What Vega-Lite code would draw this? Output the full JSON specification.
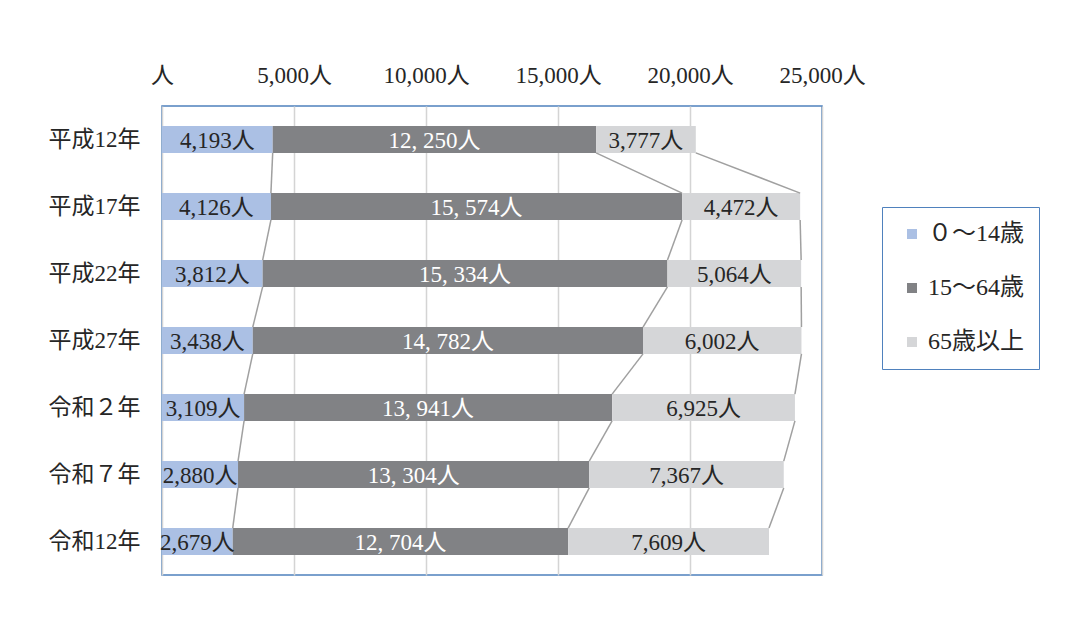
{
  "$schema": "https://vega.github.io/schema/vega-lite/v6.json",
  "width": 660,
  "height": 469,
  "autosize": {"type": "none"},
  "padding": {"left": 162, "top": 106, "right": 243, "bottom": 47},
  "background": "white",
  "config": {
    "font": "Liberation Serif, Noto Sans CJK JP",
    "view": {"stroke": "#4f81bd", "strokeWidth": 1.5}
  },
  "data": {
    "values": [
      {"year": "平成12年", "group": "０～14歳", "value": 4193},
      {"year": "平成12年", "group": "15～64歳", "value": 12250},
      {"year": "平成12年", "group": "65歳以上", "value": 3777},
      {"year": "平成17年", "group": "０～14歳", "value": 4126},
      {"year": "平成17年", "group": "15～64歳", "value": 15574},
      {"year": "平成17年", "group": "65歳以上", "value": 4472},
      {"year": "平成22年", "group": "０～14歳", "value": 3812},
      {"year": "平成22年", "group": "15～64歳", "value": 15334},
      {"year": "平成22年", "group": "65歳以上", "value": 5064},
      {"year": "平成27年", "group": "０～14歳", "value": 3438},
      {"year": "平成27年", "group": "15～64歳", "value": 14782},
      {"year": "平成27年", "group": "65歳以上", "value": 6002},
      {"year": "令和２年", "group": "０～14歳", "value": 3109},
      {"year": "令和２年", "group": "15～64歳", "value": 13941},
      {"year": "令和２年", "group": "65歳以上", "value": 6925},
      {"year": "令和７年", "group": "０～14歳", "value": 2880},
      {"year": "令和７年", "group": "15～64歳", "value": 13304},
      {"year": "令和７年", "group": "65歳以上", "value": 7367},
      {"year": "令和12年", "group": "０～14歳", "value": 2679},
      {"year": "令和12年", "group": "15～64歳", "value": 12704},
      {"year": "令和12年", "group": "65歳以上", "value": 7609}
    ]
  },
  "transform": [
    {"calculate": "indexof(['０～14歳', '15～64歳', '65歳以上'], datum.group)", "as": "go"},
    {"calculate": "indexof(['平成12年', '平成17年', '平成22年', '平成27年', '令和２年', '令和７年', '令和12年'], datum.year)", "as": "yo"},
    {"window": [{"op": "sum", "field": "value", "as": "cum"}], "groupby": ["year"], "sort": [{"field": "go"}], "frame": [null, 0]},
    {"calculate": "datum.cum - datum.value", "as": "start"},
    {"calculate": "datum.cum - datum.value / 2", "as": "mid"}
  ],
  "encoding": {
    "y": {
      "field": "year",
      "type": "nominal",
      "sort": ["平成12年", "平成17年", "平成22年", "平成27年", "令和２年", "令和７年", "令和12年"],
      "scale": {"paddingInner": 0.6, "paddingOuter": 0.3},
      "axis": {
        "title": null,
        "domain": false,
        "ticks": false,
        "labelFontSize": 23,
        "labelColor": "#262626",
        "labelPadding": 22
      }
    }
  },
  "layer": [
    {
      "mark": {"type": "bar"},
      "encoding": {
        "x": {
          "field": "start",
          "type": "quantitative",
          "scale": {"domain": [0, 25000], "nice": false},
          "axis": {
            "orient": "top",
            "title": null,
            "values": [0, 5000, 10000, 15000, 20000, 25000],
            "labelExpr": "datum.value == 0 ? '人' : format(datum.value, ',') + '人'",
            "labelFontSize": 23,
            "labelColor": "#262626",
            "labelPadding": 19,
            "labelFlush": false,
            "labelOverlap": false,
            "labelBound": false,
            "domain": false,
            "ticks": false,
            "grid": true,
            "gridColor": "#d4d4d4",
            "gridWidth": 1.5
          }
        },
        "x2": {"field": "cum"},
        "color": {
          "field": "group",
          "type": "nominal",
          "scale": {
            "domain": ["０～14歳", "15～64歳", "65歳以上"],
            "range": ["#abc0e4", "#818285", "#d5d6d8"]
          },
          "legend": {
            "title": null,
            "orient": "none",
            "legendX": 720,
            "legendY": 101,
            "symbolType": "square",
            "symbolSize": 100,
            "symbolStrokeWidth": 0,
            "symbolOffset": 3,
            "labelFontSize": 24,
            "labelColor": "#262626",
            "labelOffset": 4,
            "rowPadding": 30,
            "padding": 15,
            "strokeColor": "#4f81bd"
          }
        }
      }
    },
    {
      "transform": [
        {"window": [{"op": "lead", "field": "cum", "as": "nextCum"}, {"op": "lead", "field": "year", "as": "nextYear"}], "groupby": ["group"], "sort": [{"field": "yo"}], "frame": [null, null]},
        {"filter": "datum.nextYear != null"}
      ],
      "mark": {"type": "rule", "color": "#a0a0a0", "strokeWidth": 1.5},
      "encoding": {
        "x": {"field": "cum", "type": "quantitative"},
        "x2": {"field": "nextCum"},
        "y": {
          "field": "year",
          "type": "nominal",
          "sort": ["平成12年", "平成17年", "平成22年", "平成27年", "令和２年", "令和７年", "令和12年"],
          "bandPosition": 1
        },
        "y2": {"field": "nextYear", "bandPosition": 0}
      }
    },
    {
      "transform": [
        {"calculate": "datum.go == 1 ? replace(format(datum.value, ','), ',', ', ') + '人' : format(datum.value, ',') + '人'", "as": "label"}
      ],
      "mark": {"type": "text", "fontSize": 23, "align": "center", "baseline": "middle", "dy": 1},
      "encoding": {
        "x": {"field": "mid", "type": "quantitative"},
        "text": {"field": "label"},
        "fill": {"condition": {"test": "datum.go == 1", "value": "#ffffff"}, "value": "#262626"}
      }
    }
  ]
}
